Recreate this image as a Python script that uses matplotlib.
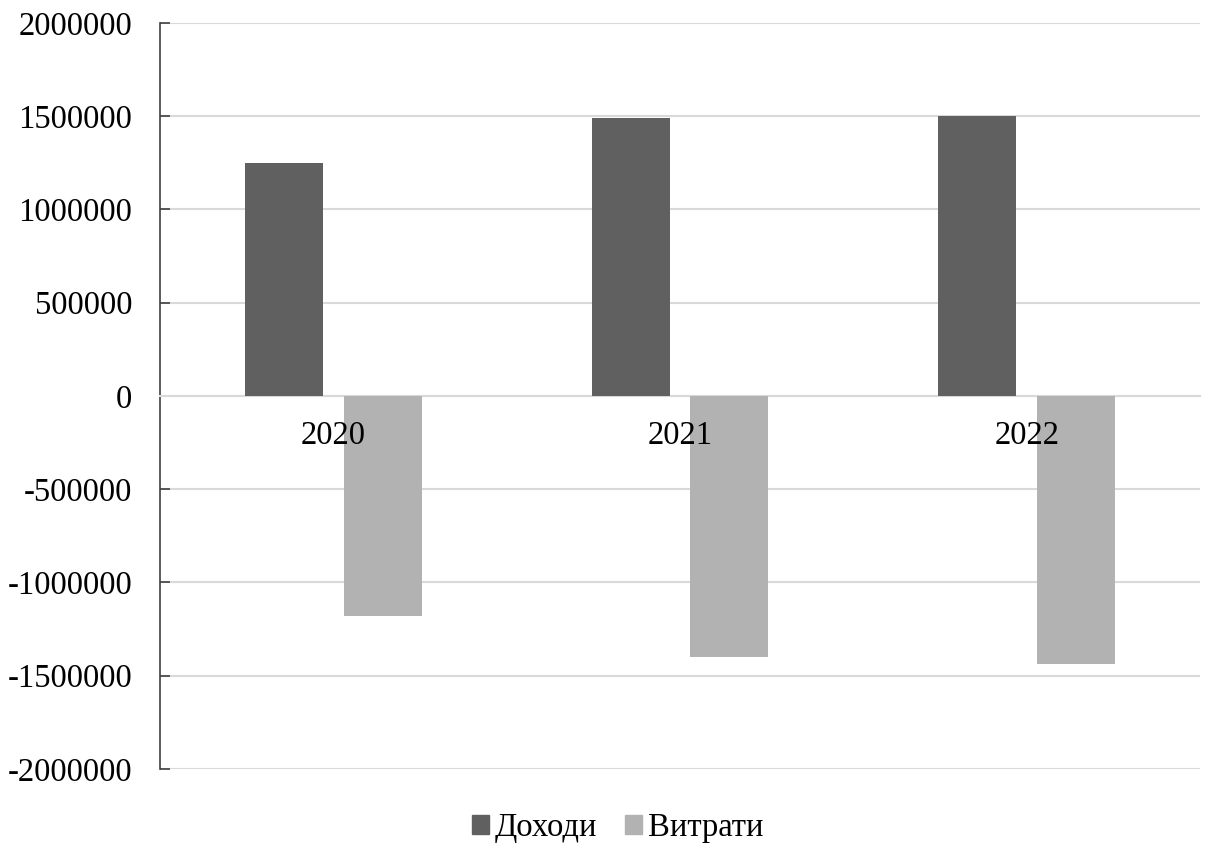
import numpy as np
import matplotlib.pyplot as plt
from matplotlib.patches import Patch
from matplotlib.transforms import offset_copy

plt.rcParams['font.family'] = ['Liberation Serif', 'DejaVu Serif']

years = ["2020", "2021", "2022"]
income = [1248000, 1489000, 1502000]      # Доходи
expenses = [-1178000, -1398000, -1437000]  # Витрати
series_names = ["Доходи", "Витрати"]
y_ticks = [-2000000, -1500000, -1000000, -500000, 0, 500000, 1000000, 1500000, 2000000]

col_income = "#606060"
col_expense = "#b2b2b2"

fig = plt.figure(figsize=(12.06, 8.43), dpi=100)
ax = fig.add_axes([0.1327, 0.0878, 0.8624, 0.885])

x = np.arange(len(years))
w = 0.225
off = 0.1425

ax.bar(x - off, income, width=w, color=col_income, zorder=3)
ax.bar(x + off, expenses, width=w, color=col_expense, zorder=3)

ax.set_xlim(-0.5, len(years) - 0.5)
ax.set_ylim(-2000000, 2000000)
ax.set_yticks(y_ticks)
ax.set_yticklabels([str(v) for v in y_ticks], fontsize=23.5)

# сітка
ax.yaxis.grid(True, color="#d9d9d9", linewidth=1.5)
ax.set_axisbelow(True)

# нульова лінія замість нижньої осі
ax.spines['bottom'].set_position(('data', 0))
ax.spines['bottom'].set_color("#d9d9d9")
ax.spines['bottom'].set_linewidth(1.5)
ax.set_xticks([])

# підписи років поверх стовпців
lbl_tr = offset_copy(ax.transData, fig=fig, x=0, y=-40, units='dots')
for xi, yr in zip(x, years):
    ax.text(xi, 0, yr, transform=lbl_tr, ha='center', va='center',
            fontsize=23.5, zorder=5)

ax.spines['top'].set_visible(False)
ax.spines['right'].set_visible(False)
ax.spines['left'].set_color("#404040")
ax.spines['left'].set_linewidth(1.2)
ax.tick_params(axis='y', direction='in', length=7.5, width=1.2, color="#404040", pad=20)

handles = [Patch(color=col_income), Patch(color=col_expense)]
fig.legend(handles, series_names, loc='center', bbox_to_anchor=(0.512, 0.018),
           ncol=2, frameon=False, fontsize=23.5, handlelength=0.52, handleheight=0.52,
           handletextpad=0.18, columnspacing=0.85)

fig.savefig("out.png", dpi=100)
